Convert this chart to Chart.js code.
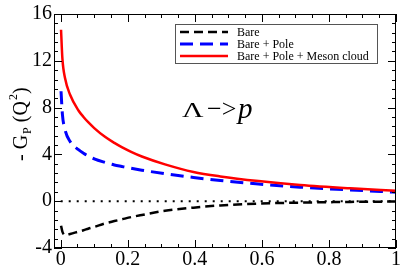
<!DOCTYPE html>
<html>
<head>
<meta charset="utf-8">
<script src="https://cdn.jsdelivr.net/npm/chart.js@4.4.0/dist/chart.umd.min.js"></script>
<style>
  html, body { margin: 0; padding: 0; background: #fff; }
  #wrap { width: 402px; height: 267px; }
</style>
</head>
<body>
<div id="wrap"><canvas id="myChart"></canvas></div>
<script>
// values
var q2 = [0.001, 0.005, 0.013, 0.028, 0.053, 0.068, 0.082, 0.1, 0.132, 0.16, 0.182, 0.21, 0.242, 0.311, 0.396, 0.476, 0.59, 0.714, 0.864, 1.0];
var bare = [-2.1, -2.6, -2.9, -2.8, -2.6, -2.48, -2.35, -2.2, -1.9, -1.7, -1.55, -1.36, -1.18, -0.82, -0.55, -0.36, -0.2, -0.12, -0.06, -0.03];
var barePole = [9.4, 7.45, 6.1, 5.1, 4.4, 4.1, 3.87, 3.62, 3.32, 3.1, 2.97, 2.81, 2.65, 2.35, 2.03, 1.77, 1.47, 1.2, 0.96, 0.77];
var barePoleMeson = [14.65, 12.2, 10.5, 9.1, 7.75, 7.2, 6.75, 6.25, 5.5, 4.98, 4.62, 4.22, 3.82, 3.15, 2.5, 2.12, 1.72, 1.38, 1.1, 0.9];
var zeroX = [0, 1];
var zeroY = [0, 0];

var seriesNames = ["Bare", "Bare + Pole", "Bare + Pole + Meson cloud"];
var xTicks = [0, 0.2, 0.4, 0.6, 0.8, 1];
var xTickLabels = ["0", "0.2", "0.4", "0.6", "0.8", "1"];
var yTicks = [-4, 0, 4, 8, 12, 16];
var yTickLabels = ["-4", "0", "4", "8", "12", "16"];

var SERIF = "'Liberation Serif', 'Times New Roman', serif";

function pts(xs, ys) {
    var out = [];
    for (var i = 0; i < xs.length; i++) out.push({x: xs[i], y: ys[i]});
    return out;
}

// frame, inward ticks, legend box, annotation and axis title
var decor = {
    id: 'decor',
    afterDatasetsDraw: function(chart) {
        var ctx = chart.ctx;
        var a = chart.chartArea;
        var xs = chart.scales.x, ys = chart.scales.y;
        ctx.save();
        ctx.strokeStyle = '#000';
        ctx.lineWidth = 1;
        ctx.setLineDash([]);
        ctx.strokeRect(a.left + 0.5, a.top + 0.5, a.right - a.left - 1, a.bottom - a.top - 1);

        ctx.beginPath();
        // x ticks, major 0.2 minor 0.05
        for (var v = 0; v <= 1.0001; v += 0.05) {
            var px = Math.round(xs.getPixelForValue(v)) + 0.5;
            var major = Math.abs(v / 0.2 - Math.round(v / 0.2)) < 1e-6;
            var len = major ? 8 : 4;
            ctx.moveTo(px, a.bottom); ctx.lineTo(px, a.bottom - len);
            ctx.moveTo(px, a.top); ctx.lineTo(px, a.top + len);
        }
        // y ticks, major 4 minor 0.8
        for (var k = 0; k <= 25; k++) {
            var yv = -4 + k * 0.8;
            var py = Math.round(ys.getPixelForValue(yv)) + 0.5;
            var len2 = (k % 5 === 0) ? 8 : 4;
            ctx.moveTo(a.left, py); ctx.lineTo(a.left + len2, py);
            ctx.moveTo(a.right, py); ctx.lineTo(a.right - len2, py);
        }
        ctx.stroke();

        // legend
        ctx.fillStyle = '#fff';
        ctx.fillRect(175, 24, 203, 40);
        ctx.strokeStyle = '#555';
        ctx.strokeRect(175.5, 24.5, 202, 39);
        var ds = [chart.data.datasets[1], chart.data.datasets[2], chart.data.datasets[3]];
        var rowY = [32, 44, 56];
        ctx.font = '12px ' + SERIF;
        ctx.textBaseline = 'middle';
        ctx.textAlign = 'left';
        for (var i = 0; i < 3; i++) {
            ctx.beginPath();
            ctx.strokeStyle = ds[i].borderColor;
            ctx.lineWidth = ds[i].borderWidth;
            ctx.setLineDash(ds[i].borderDash || []);
            ctx.moveTo(180, rowY[i]); ctx.lineTo(228, rowY[i]);
            ctx.stroke();
            ctx.fillStyle = '#000';
            ctx.fillText(seriesNames[i], 237, rowY[i] + 1);
        }
        ctx.setLineDash([]);

        // annotation
        ctx.fillStyle = '#000';
        ctx.textBaseline = 'alphabetic';
        ctx.save();
        ctx.translate(182, 117);
        ctx.scale(1.35, 1);
        ctx.font = '22px ' + SERIF;
        ctx.fillText('\u039B', 0, 0);
        ctx.restore();
        ctx.font = '26px ' + SERIF;
        ctx.fillText('\u2212>', 207, 117);
        ctx.font = 'italic 29px ' + SERIF;
        ctx.fillText('p', 238, 118);

        // y axis title
        ctx.translate(27, 161);
        ctx.rotate(-Math.PI / 2);
        var x0 = 0;
        ctx.font = '20px ' + SERIF;
        ctx.fillText('- G', x0, 0); x0 += ctx.measureText('- G').width;
        ctx.font = '12px ' + SERIF;
        ctx.fillText('P', x0 + 1, 4); x0 += ctx.measureText('P').width + 1;
        ctx.font = '20px ' + SERIF;
        ctx.fillText(' (Q', x0, 0); x0 += ctx.measureText(' (Q').width;
        ctx.font = '12px ' + SERIF;
        ctx.fillText('2', x0 + 1, -10); x0 += ctx.measureText('2').width + 1;
        ctx.font = '20px ' + SERIF;
        ctx.fillText(')', x0, 0);
        ctx.restore();
    }
};

var ctx = document.getElementById('myChart').getContext('2d');
var myChart = new Chart(ctx, {
    type: 'line',
    data: {
        datasets: [
            {
                label: 'zero',
                data: pts(zeroX, zeroY),
                borderColor: '#000',
                borderWidth: 2,
                borderDash: [2, 6],
                pointRadius: 0,
                order: 3
            },
            {
                label: seriesNames[0],
                data: pts(q2, bare),
                borderColor: '#000',
                borderWidth: 2.5,
                borderDash: [9, 5],
                pointRadius: 0,
                cubicInterpolationMode: 'monotone',
                order: 2
            },
            {
                label: seriesNames[1],
                data: pts(q2, barePole),
                borderColor: '#0000ff',
                borderWidth: 3,
                borderDash: [13, 7],
                pointRadius: 0,
                cubicInterpolationMode: 'monotone',
                order: 1
            },
            {
                label: seriesNames[2],
                data: pts(q2, barePoleMeson),
                borderColor: '#ff0000',
                borderWidth: 2.5,
                pointRadius: 0,
                cubicInterpolationMode: 'monotone',
                order: 0
            }
        ]
    },
    options: {
        responsive: true,
        maintainAspectRatio: false,
        animation: false,
        layout: { padding: { top: 7, right: 6, left: 0, bottom: 0 } },
        plugins: { legend: { display: false }, tooltip: { enabled: false } },
        scales: {
            x: {
                type: 'linear',
                min: -0.02,
                max: 1,
                grid: { display: false, drawTicks: false },
                border: { display: false },
                afterBuildTicks: function(scale) {
                    scale.ticks = xTicks.map(function(v) { return {value: v}; });
                },
                afterFit: function(scale) { scale.height = 19; },
                ticks: {
                    padding: 0,
                    maxRotation: 0,
                    color: '#000',
                    font: { family: SERIF, size: 20 },
                    callback: function(v) { return xTickLabels[xTicks.indexOf(v)]; }
                }
            },
            y: {
                min: -4,
                max: 16,
                grid: { display: false, drawTicks: false },
                border: { display: false },
                afterBuildTicks: function(scale) {
                    scale.ticks = yTicks.map(function(v) { return {value: v}; });
                },
                afterFit: function(scale) { scale.width = 54; },
                ticks: {
                    padding: 2,
                    color: '#000',
                    font: { family: SERIF, size: 20 },
                    callback: function(v) { return yTickLabels[yTicks.indexOf(v)]; }
                }
            }
        }
    },
    plugins: [decor]
});
</script>
</body>
</html>
